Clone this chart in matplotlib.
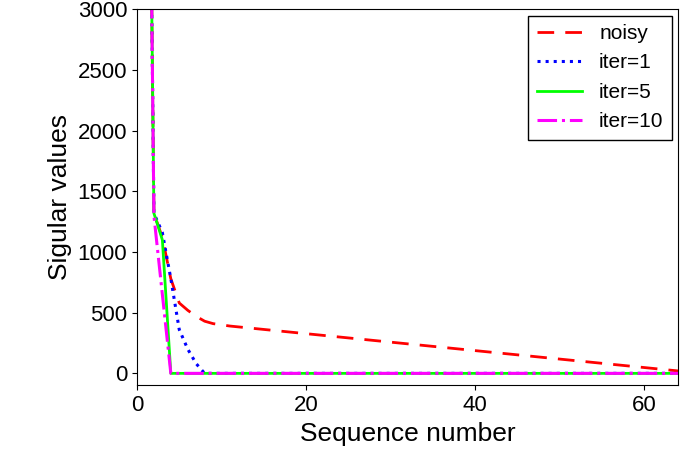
import numpy as np
import matplotlib.pyplot as plt

plt.rcParams['font.family'] = 'Liberation Sans'

seq = np.arange(1, 65)

# singular values
noisy_head = [8000, 1320, 1120, 780, 580, 520, 470, 430, 410, 400]
noisy_tail_end = 20
iter1_head = [8000, 1320, 1160, 780, 360, 200, 80, 0]
iter5_head = [8000, 1320, 1100, 0]
iter10_head = [8000, 1300, 650, 0]

noisy = noisy_head + list(np.linspace(390, noisy_tail_end, 64 - len(noisy_head)))
iter1 = iter1_head + [0] * (64 - len(iter1_head))
iter5 = iter5_head + [0] * (64 - len(iter5_head))
iter10 = iter10_head + [0] * (64 - len(iter10_head))

fig, ax = plt.subplots(figsize=(6.85, 4.73), dpi=100)
ax.plot(seq, noisy, color='red', ls=(0, (6, 4)), lw=2, label='noisy')
ax.plot(seq, iter1, color='blue', ls=':', lw=2.2, label='iter=1')
ax.plot(seq, iter5, color='#00ff00', ls='-', lw=2, label='iter=5')
ax.plot(seq, iter10, color='magenta', ls='-.', lw=2.2, label='iter=10')

ax.set_xlim(0, 64)
ax.set_ylim(-100, 3000)
ax.set_xticks([0, 20, 40, 60])
ax.set_yticks(range(0, 3001, 500))
ax.tick_params(labelsize=16)
ax.set_xlabel('Sequence number', fontsize=19)
ax.set_ylabel('Sigular values', fontsize=19)
ax.legend(fontsize=15, loc='upper right', handlelength=2.2, fancybox=False,
          edgecolor='black', framealpha=1, borderaxespad=0.3)
fig.subplots_adjust(left=0.2, right=0.99, bottom=0.185, top=0.98)
fig.savefig('out.png')
